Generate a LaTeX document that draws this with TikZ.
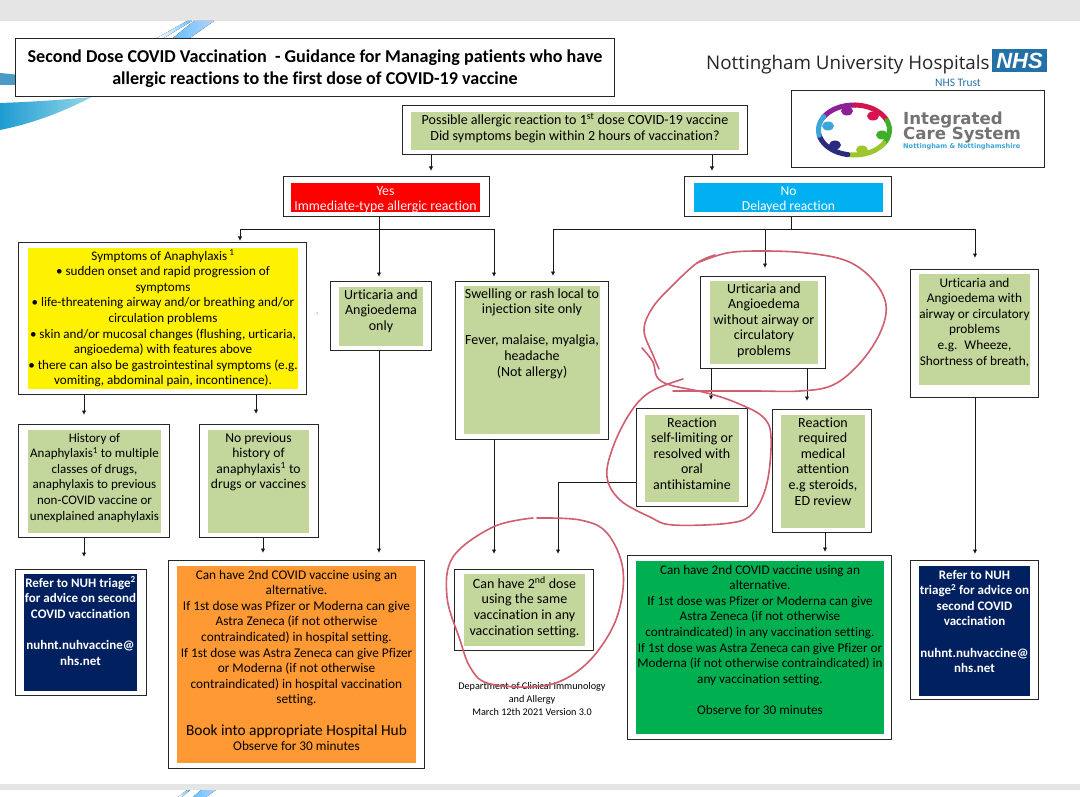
\documentclass[tikz,border=0pt]{standalone}
\usepackage{fontspec}
\usetikzlibrary{arrows.meta,calc}
\setmainfont{Carlito}[Ligatures=NoCommon]
\newfontfamily\nhsfont{Liberation Sans}
\newfontfamily\brandfont{Open Sans}
\newfontfamily\icsfont{DejaVu Sans}
\definecolor{paleg}{HTML}{C3D69B}
\definecolor{navyb}{HTML}{002060}
\definecolor{orangeb}{HTML}{FF9933}
\definecolor{greenb}{HTML}{00B050}
\definecolor{skyb}{HTML}{00B0F0}
\definecolor{penred}{HTML}{CF5F70}
\definecolor{nhsblue}{HTML}{2271A8}
\definecolor{rpurple}{HTML}{8E1F96}
\definecolor{rcrim}{HTML}{D5134F}
\definecolor{rgreen}{HTML}{3FAE2A}
\definecolor{rlime}{HTML}{9CC62B}
\definecolor{rnavy}{HTML}{2A2A80}
\definecolor{rsky}{HTML}{3DA5D9}
\tikzset{
  outerbx/.style={draw=black!85,line width=1pt,fill=white,inner sep=0pt,outer sep=0pt},
  innerbx/.style={inner sep=0pt,outer sep=0pt},
  txt/.style={align=center,inner sep=0pt,anchor=north,font=\fontsize{13.3}{15.6}\selectfont},
  wide/.style={font=\fontsize{14}{15.6}\selectfont},
  arr/.style={-{Latex[length=4.5pt,width=4.5pt]},line width=1pt,draw=black!90},
  pen/.style={draw=penred,line width=1.6pt,line cap=round,line join=round},
  ribbon/.style={line width=5pt,line cap=round}
}
\newcommand{\obox}[5]{\node[outerbx,minimum width={(#4-#2)*1pt},minimum height={(#5-#3)*1pt}] (#1) at ({(#2+#4)/2},{(#3+#5)/2}) {};}
\newcommand{\ibox}[9][]{%
  \node[innerbx,fill=#7,minimum width={(#5-#3)*1pt},minimum height={(#6-#4)*1pt}] (#2-i) at ({(#3+#5)/2},{(#4+#6)/2}) {};
  \node[txt,#1] (#2-t) at ({(#3+#5)/2},{#8-7}) {\strut #9};}
\newcommand{\arcpiece}[3]{\draw[ribbon,draw=#1] plot[domain=#2:#3,samples=16,smooth] ({854+35.5*cos(\x)},{130+25*sin(\x)});}
\begin{document}
\begin{tikzpicture}[x=1pt,y=-1pt]
\useasboundingbox (0,0) rectangle (1080,797);
\fill[white] (0,0) rectangle (1080,797);
% page bands
\fill[black!10] (0,0) rectangle (1080,21);
\fill[black!10] (0,784) rectangle (1080,790);
% swooshes
\fill[left color=white,right color=cyan!60!blue!60] (157,38) -- (187,21) -- (192,21) -- (164,38) -- cycle;
\fill[left color=cyan!60!blue!60,right color=cyan!40!blue!30] (173,38) -- (194,21) -- (214,21) -- (190,38) -- cycle;
\fill[fill={rgb,255:red,74;green,156;blue,199}] (0,73) -- (20,75) -- (20,85) -- (0,85) -- cycle;
\shade[left color={rgb,255:red,30;green,156;blue,208},right color={rgb,255:red,150;green,215;blue,235}] (0,103) .. controls (30,102) and (60,100) .. (92,97) .. controls (70,108) and (40,122) .. (0,130) -- cycle;
\fill[left color=white,right color=cyan!60!blue!70] (178,797) -- (187,790) -- (190,790) -- (182,797) -- cycle;
\fill[left color=cyan!60!blue!60,right color=cyan!40!blue!30] (193,797) -- (201,790) -- (216,790) -- (206,797) -- cycle;

% title
\node[outerbx,minimum width=599pt,minimum height=58pt] (title) at (314.5,68) {};
\node[txt,font=\fontsize{18.1}{22}\bfseries\selectfont] (title-t) at (315,46.5) {\strut Second Dose COVID Vaccination \ - Guidance for Managing patients who have\\allergic reactions to the first dose of COVID-19 vaccine};

% trust branding
\node[inner sep=0pt,anchor=west,font=\brandfont\fontsize{18.8}{22}\selectfont,text=black!85] (trust) at (706,65) {Nottingham University Hospitals};
\node[inner sep=0pt,fill=nhsblue,minimum width=55pt,minimum height=23pt,text=white,font=\nhsfont\bfseries\itshape\fontsize{22}{22}\selectfont] (nhs) at (1019.5,60.5) {NHS};
\node[inner sep=0pt,anchor=east,font=\fontsize{11.5}{12}\selectfont,text=nhsblue] (nhstrust) at (981,83) {NHS Trust};
\node[draw=black!85,line width=1pt,inner sep=0pt,minimum width=253pt,minimum height=77pt] (ics) at (917.5,129.5) {};
\arcpiece{rpurple}{-150}{-88}
\arcpiece{rcrim}{-88}{-22}
\arcpiece{rgreen}{-22}{32}
\arcpiece{rlime}{32}{100}
\arcpiece{rnavy}{100}{168}
\arcpiece{rsky}{168}{212}
\fill[white] (854,130) ellipse (29 and 19.5);
\fill[rpurple] (847,111) ellipse (6 and 4.5);
\fill[rcrim] (873,116) ellipse (6 and 4.5);
\fill[rgreen] (882,135) ellipse (6 and 4.5);
\fill[rlime] (862,150) ellipse (6 and 4.5);
\fill[rnavy] (835,145) ellipse (6 and 4.5);
\fill[rsky] (828,126) ellipse (6 and 4.5);
\node[inner sep=0pt,anchor=west,font=\icsfont\bfseries\fontsize{16.6}{17}\selectfont,text=black!55] (ics1) at (903,120) {Integrated};
\node[inner sep=0pt,anchor=west,font=\icsfont\bfseries\fontsize{16.6}{17}\selectfont,text=black!55] (ics2) at (903,135) {Care System};
\node[inner sep=0pt,anchor=west,font=\icsfont\bfseries\fontsize{6.6}{7}\selectfont,text=rsky] (ics3) at (903,147) {Nottingham \& Nottinghamshire};

% question
\obox{q}{402}{106}{747}{155}
\ibox[font=\fontsize{14}{16.6}\selectfont]{q}{411}{112}{739}{150}{paleg}{119.5}{Possible allergic reaction to 1\textsuperscript{st} dose COVID-19 vaccine\\Did symptoms begin within 2 hours of vaccination?}
% yes / no
\obox{yes}{283}{177}{489}{217}
\ibox[text=white!95!red,font=\fontsize{13.8}{15.6}\selectfont]{yes}{291}{183}{480}{212}{red}{191}{Yes\\Immediate-type allergic reaction}
\obox{no}{684}{177}{891}{217}
\ibox[text=white,font=\fontsize{13.6}{15.6}\selectfont]{no}{694}{183}{883}{212}{skyb}{191}{No\\Delayed reaction}
% anaphylaxis
\obox{ana}{18}{242}{306}{394}
\ibox[font=\fontsize{13.1}{15.6}\selectfont]{ana}{28}{248}{298}{389}{yellow}{256}{Symptoms of Anaphylaxis\,\textsuperscript{1}\\\textbullet\ sudden onset and rapid progression of\\symptoms\\\textbullet\ life-threatening airway and/or breathing and/or\\circulation problems\\\textbullet\ skin and/or mucosal changes (flushing, urticaria,\\angioedema) with features above\\\textbullet\ there can also be gastrointestinal symptoms (e.g.\\vomiting, abdominal pain, incontinence).}
\obox{hist}{18}{424}{169}{537}
\ibox[font=\fontsize{13}{15.6}\selectfont]{hist}{28}{430}{161}{533}{paleg}{438}{History of\\Anaphylaxis\textsuperscript{1} to multiple\\classes of drugs,\\anaphylaxis to previous\\non-COVID vaccine or\\unexplained anaphylaxis}
\obox{noprev}{199}{424}{318}{537}
\ibox[font=\fontsize{13.6}{15.6}\selectfont]{noprev}{208}{430}{309}{533}{paleg}{438}{No previous\\history of\\anaphylaxis\textsuperscript{1} to\\drugs or vaccines}
\obox{ref}{15}{569}{146}{695}
\ibox[text=white,font=\fontsize{13}{15.6}\bfseries\selectfont]{ref}{24}{574}{137}{691}{navyb}{583}{Refer to NUH triage\textsuperscript{2}\\for advice on second\\COVID vaccination\\~\\nuhnt.nuhvaccine@\\nhs.net}
\obox{orange}{168}{560}{424}{768}
\ibox{orange}{177}{566}{416}{763}{orangeb}{575}{Can have 2nd COVID vaccine using an\\alternative.\\If 1st dose was Pfizer or Moderna can give\\Astra Zeneca (if not otherwise\\contraindicated) in hospital setting.\\If 1st dose was Astra Zeneca can give Pfizer\\or Moderna (if not otherwise\\contraindicated) in hospital vaccination\\setting.\\~\\{\fontsize{15.4}{15.6}\selectfont Book into appropriate Hospital Hub}\\Observe for 30 minutes}
\obox{urt}{330}{281}{431}{350}
\ibox[wide]{urt}{339}{287}{423}{346}{paleg}{295}{Urticaria and\\Angioedema\\only}
\obox{swell}{455}{281}{608}{439}
\ibox[wide]{swell}{464}{286}{600}{434}{paleg}{294}{Swelling or rash local to\\injection site only\\~\\Fever, malaise, myalgia,\\headache\\(Not allergy)}
\obox{can}{454}{569}{593}{650}
\ibox[wide]{can}{464}{574}{585}{646}{paleg}{583}{Can have 2\textsuperscript{nd} dose\\using the same\\vaccination in any\\vaccination setting.}
\node[txt,font=\fontsize{10.2}{13}\selectfont] (dept) at (532,680) {\strut Department of Clinical Immunology\\and Allergy\\March 12th 2021 Version 3.0};
\obox{urt2}{700}{276}{825}{368}
\ibox[wide]{urt2}{710}{281}{818}{364}{paleg}{289}{Urticaria and\\Angioedema\\without airway or\\circulatory\\problems}
\obox{self}{636}{408}{747}{506}
\ibox[wide]{self}{645}{415}{739}{502}{paleg}{423}{Reaction\\self-limiting or\\resolved with\\oral\\antihistamine}
\obox{req}{772}{409}{871}{532}
\ibox[wide]{req}{781}{415}{865}{528}{paleg}{423}{Reaction\\required\\medical\\attention\\e.g steroids,\\ED review}
\obox{green}{627}{555}{891}{739}
\ibox[font=\fontsize{13.2}{15.6}\selectfont]{green}{636}{561}{884}{734}{greenb}{570}{Can have 2nd COVID vaccine using an\\alternative.\\If 1st dose was Pfizer or Moderna can give\\Astra Zeneca (if not otherwise\\contraindicated) in any vaccination setting.\\If 1st dose was Astra Zeneca can give Pfizer or\\Moderna (if not otherwise contraindicated) in\\any vaccination setting.\\~\\Observe for 30 minutes}
\obox{urt3}{910}{269}{1038}{397}
\ibox{urt3}{919}{274}{1030}{385}{paleg}{283}{Urticaria and\\Angioedema with\\airway or circulatory\\problems\\e.g. \ Wheeze,\\Shortness of breath,}
\obox{ref2}{910}{560}{1038}{699}
\ibox[text=white,font=\fontsize{13}{15.6}\bfseries\selectfont]{ref2}{919}{566}{1030}{696}{navyb}{575}{Refer to NUH\\triage\textsuperscript{2} for advice on\\second COVID\\vaccination\\~\\nuhnt.nuhvaccine@\\nhs.net}
\fill (317,313) circle (0.5);

% connector columns
\coordinate (c84) at (84,0);
\coordinate (c240) at (240,0);
\coordinate (c256) at (256,0);
\coordinate (c263) at (263,0);
\coordinate (c379) at (379,0);
\coordinate (c431) at (431,0);
\coordinate (c494) at (494,0);
\coordinate (c553) at (553,0);
\coordinate (c558) at (558,0);
\coordinate (c711) at (711,0);
\coordinate (c712) at (712,0);
\coordinate (c765) at (765,0);
\coordinate (c791) at (791,0);
\coordinate (c807) at (807,0);
\coordinate (c825) at (825,0);
\coordinate (c975) at (975,0);
\coordinate (bar) at (0,230);
\coordinate (side) at (0,482);
% connectors
\draw[arr,shorten >=6pt] (q.south -| c431) -- (yes.north -| c431);
\draw[arr,shorten >=6pt] (q.south -| c712) -- (no.north -| c712);
\draw[arr,shorten >=1pt] (yes.south -| c379) -- (c379 |- bar) -| (ana.north -| c240);
\draw[arr,shorten >=4pt] (yes.south -| c379) -- (urt.north -| c379);
\draw[arr,shorten >=4pt] (yes.south -| c379) -- (c379 |- bar) -| (swell.north -| c494);
\draw[arr,shorten >=5pt] (no.south -| c791) -- (c791 |- bar) -| (swell.north -| c553);
\draw[arr,shorten >=8pt] (no.south -| c791) -- (c791 |- bar) -| (urt2.north -| c765);
\draw[arr,shorten >=11pt] (no.south -| c791) -- (c791 |- bar) -| (urt3.north -| c975);
\draw[arr,shorten >=9pt] (ana.south -| c84) -- (hist.north -| c84);
\draw[arr,shorten >=10pt] (ana.south -| c256) -- (noprev.north -| c256);
\draw[arr,shorten >=12pt] (hist.south -| c84) -- (ref.north -| c84);
\draw[arr,shorten >=7pt] (noprev.south -| c263) -- (orange.north -| c263);
\draw[arr,shorten >=7pt] (urt.south -| c379) -- (orange.north -| c379);
\draw[arr,shorten >=15pt] (swell.south -| c494) -- (can.north -| c494);
\draw[arr,shorten >=15pt] (self.west |- side) -| (can.north -| c558);
\draw[arr,shorten >=8pt] (urt2.south -| c711) -- (self.north -| c711);
\draw[arr,shorten >=8pt] (urt2.south -| c807) -- (req.north -| c807);
\draw[arr,shorten >=3pt] (req.south -| c825) -- (green.north -| c825);
\draw[arr,shorten >=6pt] (urt3.south -| c975) -- (ref2.north -| c975);

% hand-drawn red rings
\draw[pen] plot[smooth,tension=0.6] coordinates {(659,369) (653,355) (644,330) (653,307) (673,285) (697,263) (715,255)};
\draw[pen] plot[smooth,tension=0.6] coordinates {(697,263) (727,253) (763,251) (807,253) (847,261) (873,280) (886,305) (880,333) (860,363) (833,385) (800,391) (753,391) (673,391)};
\draw[pen] plot[smooth,tension=0.6] coordinates {(642,348) (653,362) (657,377) (670,385) (707,393) (737,403) (763,417) (771,437) (767,483) (753,513) (730,523) (673,525) (650,517) (620,500) (607,477) (613,447) (630,413) (650,392) (683,379)};
\draw[pen] plot[smooth,tension=0.6] coordinates {(537,518) (580,520) (607,533) (623,570) (617,617) (593,657) (563,680) (530,687) (487,683) (470,667) (460,640) (447,597) (453,557) (493,527) (533,518)};
\end{tikzpicture}
\end{document}
